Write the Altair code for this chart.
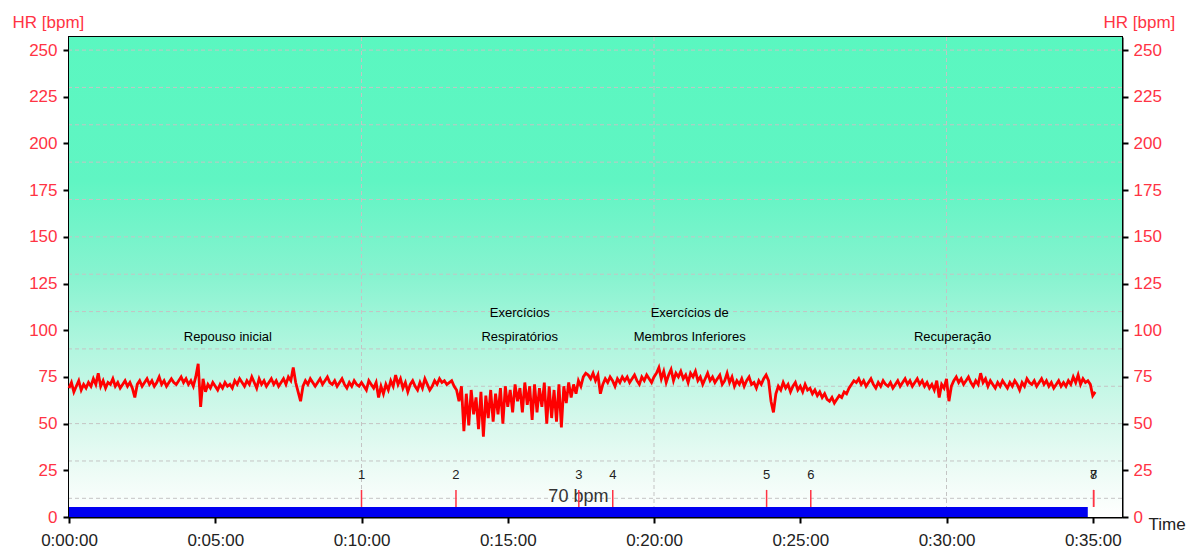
import altair as alt
import pandas as pd

# ---------------- data ----------------
# heart rate samples, one every 5 seconds
sample_seconds = 5
hr_rest = [
    69, 72, 67, 70, 73, 68, 71, 69, 72, 70, 74, 71,
    77, 70, 73, 69, 72, 71, 74, 70, 72, 69, 71, 73,
    70, 72, 69, 64, 71, 73, 70, 72, 74, 71, 73, 70,
    72, 75, 71, 73, 70, 72, 74, 72, 71, 73, 75, 72,
    74, 71, 73, 70, 75, 82, 59, 74, 67, 71, 69, 72,
    70, 68, 71, 69, 72, 70, 71, 69, 73, 71, 74, 72,
    70, 73, 71, 75, 72, 69, 74, 71, 73, 70, 72, 74,
    71, 73, 70, 72, 74, 71, 75, 73, 80, 72, 67, 62,
    70, 73, 71, 74, 72, 70, 72, 74, 71, 73, 75, 72,
    71, 73, 70, 72, 74, 71, 69, 72, 70, 73, 71, 70,
]
hr_pre = [
    72, 70, 68, 73, 71, 69, 72, 64, 70, 66, 71, 68,
    73, 70, 76, 71, 74, 69, 72, 67, 71, 73, 70, 68,
    72, 69, 74, 71, 68, 70, 73, 71, 74, 72, 73, 71,
    72, 73, 70,
]
hr_resp = [
    68, 62, 70, 46, 66, 49, 68, 55, 64, 47,
    67, 43, 65, 53, 68, 51, 66, 55, 69, 50,
    70, 59, 68, 56, 71, 62, 69, 56, 72, 60,
    70, 52, 71, 56, 69, 59, 72, 50, 70, 53,
    68, 51, 71, 48, 70, 61, 72, 64, 71, 66,
    73, 70, 75, 77,
]
hr_legs = [
    76, 74, 77,
    73, 76, 66, 71, 74, 72, 75, 73, 70, 74, 72, 75,
    73, 75, 72, 74, 76, 73, 71, 75, 73, 76, 74, 72,
    75, 77, 80, 74, 78, 72, 76, 79, 73, 77, 75, 78,
    74, 76, 72, 77, 75, 78, 73, 75, 71, 74, 77, 73,
    75, 72, 74, 76, 71, 73, 77, 72, 75, 70, 73, 71,
    74, 70, 73, 75, 71, 72, 69, 73, 71, 74, 76, 73,
    62, 56, 66, 70, 68, 72, 69, 71, 67, 70, 72, 68,
    70, 67, 71, 68, 69, 66, 68, 65, 67, 64, 66, 63,
    62, 64, 61, 63, 65, 64, 67, 66, 69,
]
hr_recov = [
    71, 73, 72,
    74, 71, 73, 70, 72, 74, 71, 69, 72, 70, 73, 71,
    70, 72, 69, 71, 73, 70, 72, 74, 71, 73, 70, 72,
    74, 71, 73, 70, 72, 69, 71, 68, 73, 64, 71, 69,
    74, 62, 70, 73, 75, 72, 74, 71, 73, 75, 72, 70,
    73, 71, 77, 72, 74, 70, 73, 71, 69, 72, 70, 73,
    71, 69, 72, 70, 73, 71, 68, 72, 70, 74, 72, 71,
    73, 70, 72, 74, 71, 73, 70, 72, 69, 71, 73, 70,
    72, 70, 73, 71, 75, 72, 76, 71, 74, 72, 73, 71,
    65, 67,
]

marker_labels = ["1", "2", "3", "4", "5", "6", "7", "8"]
marker_minutes = [10.0, 13.23, 17.43, 18.59, 23.85, 25.36, 35.03, 35.03]

phase_labels = ["Repouso inicial", "Exercícios\nRespiratórios",
                "Exercícios de\nMembros Inferiores", "Recuperação"]
phase_minutes = [5.43, 15.41, 21.22, 30.21]
phase_bpm = [92.6, 105.5, 105.5, 92.6]

y_ticks = [0, 25, 50, 75, 100, 125, 150, 175, 200, 225, 250]
y_grid = [10, 30, 50, 70, 90, 110, 130, 150, 170, 190, 210, 230, 250]
x_ticks = [0, 5, 10, 15, 20, 25, 30, 35]
x_grid = [10, 20, 30]

zone_end_min = 34.83
zone_top_bpm = 5.4
zone_label = "70 bpm"

# ---------------- tables ----------------
hr_all = hr_rest + hr_pre + hr_resp + hr_legs + hr_recov
hr_df = pd.DataFrame({"t": [i * sample_seconds / 60 for i in range(len(hr_all))],
                      "hr": hr_all})
marker_df = pd.DataFrame({"t": marker_minutes, "label": marker_labels})
phase_df = pd.DataFrame({"t": phase_minutes, "y": phase_bpm, "label": phase_labels})
ygrid_df = pd.DataFrame({"v": y_grid})
xgrid_df = pd.DataFrame({"t": x_grid})
one = pd.DataFrame({"a": [0]})

W, H = 1053, 480
X_MAX, Y_MAX = 36, 257
RED = "#ff3344"
FONT = "Liberation Sans"

xs = alt.Scale(domain=[0, X_MAX], nice=False, zero=False)
ys = alt.Scale(domain=[0, Y_MAX], nice=False)

x_axis = alt.Axis(
    values=x_ticks, grid=False, labelFlush=False, labelOverlap=False,
    labelExpr="'0:' + (datum.value < 10 ? '0' : '') + datum.value + ':00'",
    labelColor="#222222", labelPadding=9,
    title="Time", titleAngle=0, titleX=1079, titleY=7, titleAlign="left",
    titleBaseline="middle", titleColor="#222222", titleFontWeight="normal",
    titleFontSize=17, titleFont=FONT,
)
y_axis_left = alt.Axis(
    values=y_ticks, grid=False, labelColor=RED, labelPadding=6, labelOverlap=False,
    title="HR [bpm]", titleAngle=0, titleX=-57, titleY=-15, titleAlign="left",
    titleBaseline="middle", titleColor=RED, titleFontWeight="normal",
    titleFontSize=17, titleFont=FONT,
)
y_axis_right = alt.Axis(
    orient="right", values=y_ticks, grid=False, labelColor=RED, labelPadding=5,
    labelOverlap=False,
    title="HR [bpm]", titleAngle=0, titleX=-19, titleY=-15, titleAlign="left",
    titleBaseline="middle", titleColor=RED, titleFontWeight="normal",
    titleFontSize=17, titleFont=FONT,
)

gradient = {
    "gradient": "linear", "x1": 0, "y1": 0, "x2": 0, "y2": 1,
    "stops": [
        {"offset": 0.0, "color": "#5af7c0"},
        {"offset": 0.3, "color": "#60f5c3"},
        {"offset": 0.5, "color": "#88f3d0"},
        {"offset": 0.65, "color": "#b2f6df"},
        {"offset": 0.8, "color": "#d6f8ec"},
        {"offset": 0.92, "color": "#f0fcf7"},
        {"offset": 1.0, "color": "#ffffff"},
    ],
}


def X(field):
    return alt.X(field, scale=xs, axis=x_axis)


def XD(v):
    return alt.XDatum(v, scale=xs, axis=x_axis)


def Y(field):
    return alt.Y(field, scale=ys, axis=y_axis_left)


def YD(v):
    return alt.YDatum(v, scale=ys, axis=y_axis_left)


bg = alt.Chart(one).mark_rect(color=gradient).encode(
    x=XD(0), x2=alt.X2Datum(X_MAX), y=YD(0), y2=alt.Y2Datum(Y_MAX),
)

hgrid = alt.Chart(ygrid_df).mark_rule(color="#c4c4c4", strokeDash=[4, 3], strokeWidth=1).encode(
    y=Y("v:Q")
)
vgrid = alt.Chart(xgrid_df).mark_rule(color="#c4c4c4", strokeDash=[4, 3], strokeWidth=1).encode(
    x=X("t:Q")
)

zone = alt.Chart(one).mark_rect(color="#0000f0").encode(
    x=XD(0), x2=alt.X2Datum(zone_end_min), y=YD(0), y2=alt.Y2Datum(zone_top_bpm),
)
zone_text = alt.Chart(one).mark_text(font=FONT, fontSize=18, color="#333333", baseline="middle").encode(
    x=XD(zone_end_min / 2), y=YD(10.7), text=alt.value(zone_label),
)

marks = alt.Chart(marker_df).mark_rule(color="#ff3344", strokeWidth=1.5).encode(
    x=X("t:Q"), y=YD(zone_top_bpm), y2=alt.Y2Datum(14.5),
)
mark_text = alt.Chart(marker_df).mark_text(font=FONT, fontSize=13, color="#222222", baseline="middle").encode(
    x=X("t:Q"), y=YD(22.5), text="label:N",
)

phases = alt.Chart(phase_df).mark_text(font=FONT, fontSize=13, color="#000000", baseline="bottom",
                                       lineBreak="\n", lineHeight=24).encode(
    x=X("t:Q"), y=Y("y:Q"), text="label:N",
)

line = alt.Chart(hr_df).mark_line(color="#ff0000", strokeWidth=2.8).encode(
    x=X("t:Q"), y=Y("hr:Q"),
)

inner = alt.layer(bg, hgrid, vgrid, zone, zone_text, marks, mark_text, phases, line)

right = alt.Chart(hr_df).mark_line(opacity=0).encode(
    x=X("t:Q"),
    y=alt.Y("hr:Q", scale=ys, axis=y_axis_right),
)

chart = alt.layer(inner, right).resolve_scale(y="independent").properties(
    width=W, height=H,
    autosize="none",
    padding={"left": 61, "top": 29, "right": 66, "bottom": 34},
).configure_view(
    stroke="black", strokeWidth=2
).configure_axis(
    domainColor="black", domainWidth=2, tickColor="black", tickWidth=2, tickSize=6,
    labelFont=FONT, labelFontSize=17,
)

chart.save("out.html", embed_options={"renderer": "svg", "actions": False})
